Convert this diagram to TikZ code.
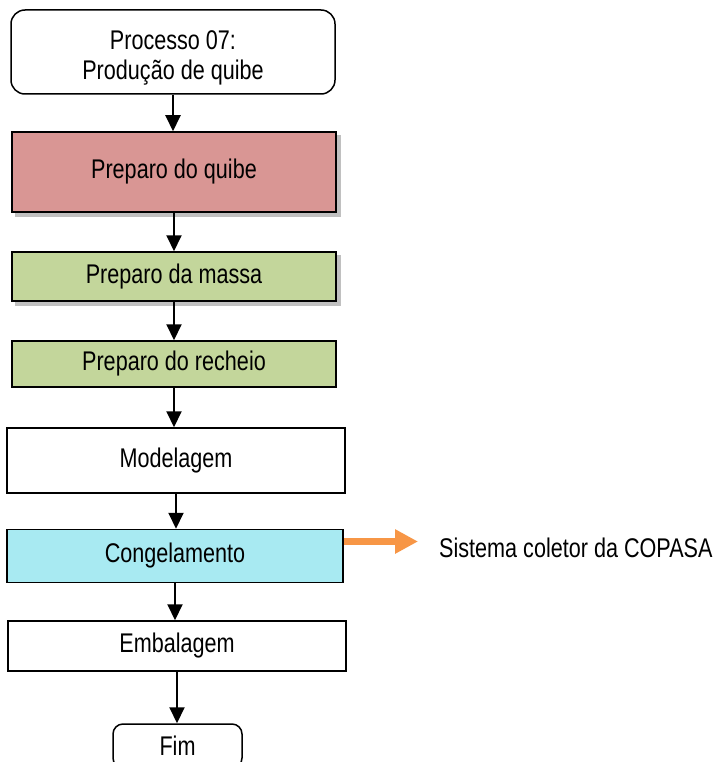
\documentclass[tikz,border=0pt]{standalone}
\usepackage{fontspec}
\setmainfont{Liberation Sans}
\usetikzlibrary{arrows.meta,backgrounds}
% condensed lettering for all labels
\newcommand{\narrowtxt}[1]{\scalebox{0.8}[1]{#1}}
\definecolor{quibered}{RGB}{217,150,148}
\definecolor{massagreen}{RGB}{195,214,155}
\definecolor{frostcyan}{RGB}{168,234,242}
\definecolor{copasaorange}{RGB}{247,150,70}
\definecolor{shadowgray}{RGB}{192,192,192}
\begin{document}
\begin{tikzpicture}[x=1pt,y=-1pt,
  lbl/.style={font=\fontsize{27}{30}\selectfont},
  stepbox/.style={lbl, draw=black, line width=1.5pt, inner sep=0pt},
  flow/.style={line width=2pt, -{Triangle[length=16pt,width=15pt]}},
]
\useasboundingbox (0,0) rectangle (719,762);

% process steps
\node[stepbox, rounded corners=14pt, fill=white, minimum width=324pt, minimum height=84pt] (start) at (173,52) {};
\node[lbl, align=center, inner sep=0pt] (starttxt) at (173,57.5) {\narrowtxt{Processo 07:}\\\narrowtxt{Produção de quibe}};
\node[stepbox, fill=quibered, minimum width=324pt, minimum height=80pt] (quibe) at (174,172) {\narrowtxt{Preparo do quibe}};
\node[stepbox, fill=massagreen, minimum width=324pt, minimum height=49pt] (massa) at (174,276.5) {\narrowtxt{Preparo da massa}};
\node[stepbox, fill=massagreen, minimum width=324pt, minimum height=46pt] (recheio) at (174,364) {\narrowtxt{Preparo do recheio}};
\node[stepbox, fill=white, minimum width=338pt, minimum height=65pt] (model) at (176,460.5) {\narrowtxt{Modelagem}};
\node[stepbox, fill=frostcyan, minimum width=336pt, minimum height=53pt] (cong) at (175,556) {\narrowtxt{Congelamento}};
\node[stepbox, fill=white, minimum width=338pt, minimum height=50pt] (emb) at (177,646) {\narrowtxt{Embalagem}};
\node[stepbox, rounded corners=10pt, fill=white, minimum width=129pt, minimum height=44pt] (fim) at (177.5,746) {\narrowtxt{Fim}};

% destination of the effluent
\node[lbl, anchor=west, inner sep=0pt] (copasa) at (439,547.5) {\narrowtxt{Sistema coletor da COPASA}};
\coordinate (drain) at (418,541.5);

% flow connectors
\draw[flow] (start.south) -- (start.south |- quibe.north);
\draw[flow] (quibe.south) -- (quibe.south |- massa.north);
\draw[flow] (massa.south) -- (massa.south |- recheio.north);
\draw[flow] (recheio.south) -- (recheio.south |- model.north);
\draw[flow] (model.south) -- (model.south |- cong.north);
\draw[flow] (cong.south) -- (cong.south |- emb.north);
\draw[flow] (emb.south) -- (emb.south |- fim.north);

\begin{scope}[on background layer]
  \fill[white] (0,0) rectangle (719,762);
  % drop shadows
  \fill[shadowgray] ([shift={(4,4)}]quibe.north west) rectangle ([shift={(4,4)}]quibe.south east);
  \fill[shadowgray] ([shift={(4,4)}]massa.north west) rectangle ([shift={(4,4)}]massa.south east);
  % outflow arrow
  \draw[copasaorange, line width=7pt, -{Triangle[length=23pt,width=23pt]}] (cong.east |- drain) -- (drain);
\end{scope}
\end{tikzpicture}
\end{document}
